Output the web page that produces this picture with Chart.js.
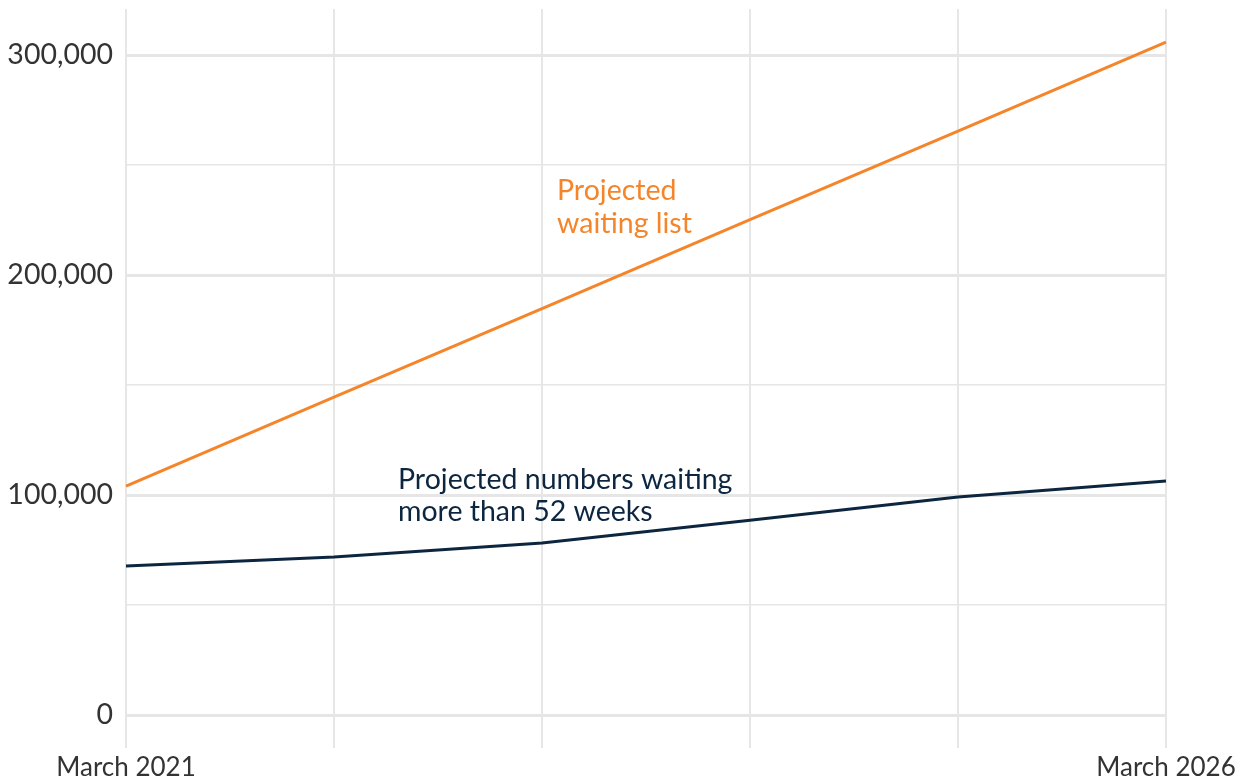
<!DOCTYPE html>
<html>
<head>
<meta charset="utf-8">
<script src="https://cdn.jsdelivr.net/npm/chart.js@4"></script>
<style>
    html, body { margin: 0; padding: 0; background: #ffffff; }
    #wrap { width: 1247px; height: 780px; }
</style>
</head>
<body>
<div id="wrap"><canvas id="waitingChart"></canvas></div>
<script>
const periods = ['March 2021', '', '', '', '', 'March 2026'];
const waitingList = [104100, 144500, 184800, 225200, 265500, 305900];
const over52Weeks = [67700, 71800, 78200, 88600, 99100, 106400];
const yTicks = [0, 50000, 100000, 150000, 200000, 250000, 300000];
const labeledTicks = [0, 100000, 200000, 300000];

const orange = '#F5852A';
const navy = '#0D2640';
const gridGrey = '#E6E6E6';
const fontFamily = 'Lato, "Open Sans", sans-serif';

// line labels drawn next to the lines
const lineLabels = {
    id: 'lineLabels',
    afterDatasetsDraw(chart) {
        const ctx = chart.ctx;
        ctx.save();
        ctx.font = '28.5px ' + fontFamily;
        ctx.textAlign = 'left';
        ctx.textBaseline = 'middle';
        ctx.fillStyle = orange;
        ctx.fillText('Projected', 557, 191);
        ctx.fillText('waiting list', 557, 224);
        ctx.fillStyle = navy;
        ctx.fillText('Projected numbers waiting', 398, 480);
        ctx.fillText('more than 52 weeks', 398, 512);
        ctx.restore();
    }
};

const ctx = document.getElementById('waitingChart').getContext('2d');
const waitingChart = new Chart(ctx, {
    type: 'line',
    data: {
        labels: periods,
        datasets: [{
            label: 'Projected waiting list',
            data: waitingList,
            borderColor: orange,
            borderWidth: 3,
            pointRadius: 0,
            tension: 0,
            fill: false
        }, {
            label: 'Projected numbers waiting more than 52 weeks',
            data: over52Weeks,
            borderColor: navy,
            borderWidth: 3,
            pointRadius: 0,
            tension: 0,
            fill: false
        }]
    },
    options: {
        responsive: true,
        maintainAspectRatio: false,
        animation: false,
        layout: {
            padding: { top: 9, right: 81, left: 0, bottom: 0 }
        },
        plugins: {
            legend: { display: false },
            tooltip: { enabled: false }
        },
        scales: {
            x: {
                offset: false,
                border: { display: false },
                grid: {
                    color: gridGrey,
                    lineWidth: 2,
                    tickLength: 33,
                    drawTicks: true
                },
                ticks: {
                    color: '#333333',
                    font: { family: fontFamily, size: 26 },
                    maxRotation: 0,
                    autoSkip: false,
                    padding: 4
                },
                afterFit: function(scale) {
                    scale.height = 65;
                    scale.paddingLeft = 0;
                    scale.paddingRight = 0;
                }
            },
            y: {
                min: 0,
                max: 321000,
                border: { display: false },
                afterBuildTicks: function(scale) {
                    scale.ticks = yTicks.map(v => ({ value: v }));
                },
                afterFit: function(scale) {
                    scale.width = 126;
                    scale.paddingTop = 0;
                    scale.paddingBottom = 0;
                },
                grid: {
                    drawTicks: false,
                    color: gridGrey,
                    lineWidth: function(context) {
                        const v = context.tick ? context.tick.value : 0;
                        return labeledTicks.includes(v) ? 3 : 1.5;
                    }
                },
                ticks: {
                    color: '#333333',
                    padding: 13,
                    font: { family: fontFamily, size: 28.5 },
                    callback: function(value) {
                        return labeledTicks.includes(value) ? value.toLocaleString('en-GB') : '';
                    }
                }
            }
        }
    },
    plugins: [lineLabels]
});
</script>
</body>
</html>
